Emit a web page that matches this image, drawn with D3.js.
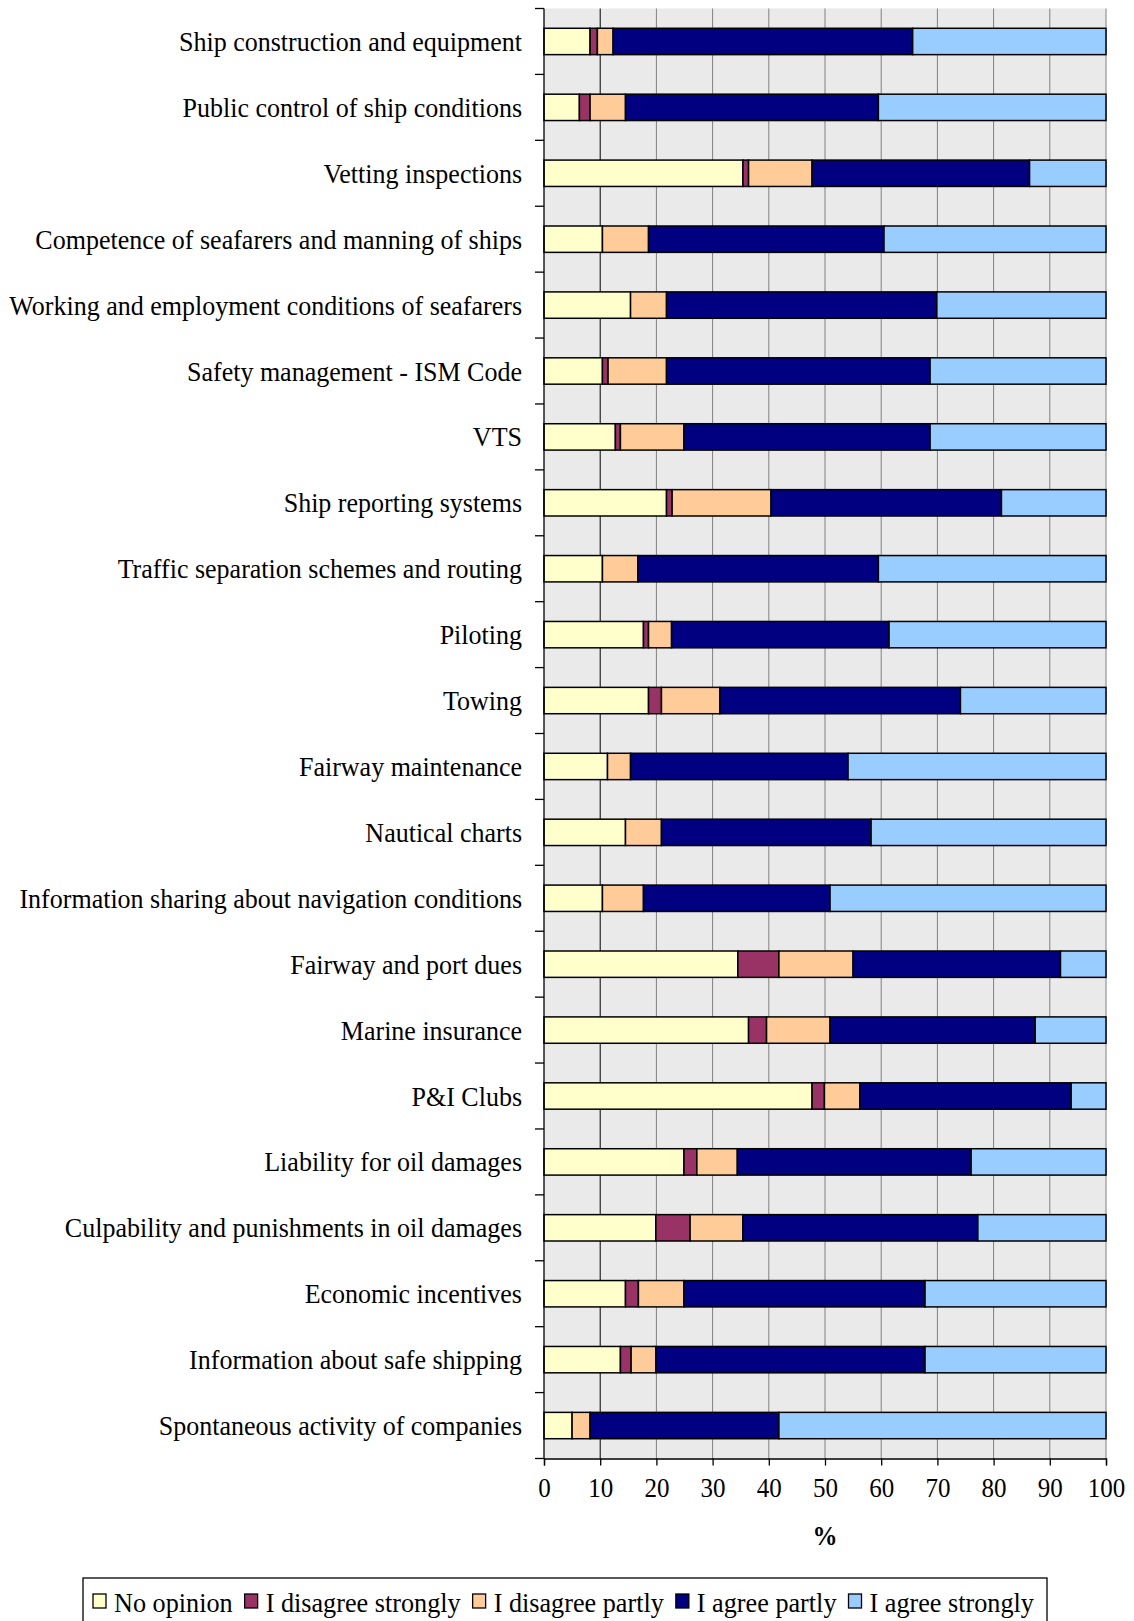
<!DOCTYPE html>
<html><head><meta charset="utf-8">
<script src="https://cdn.jsdelivr.net/npm/d3@7"></script>
<style>body{margin:0;background:#fff}svg{display:block}</style>
</head><body>
<svg id="c" width="1134" height="1621"></svg>
<script>
const categories = [
 "Ship construction and equipment","Public control of ship conditions","Vetting inspections",
 "Competence of seafarers and manning of ships","Working and employment conditions of seafarers",
 "Safety management - ISM Code","VTS","Ship reporting systems","Traffic separation schemes and routing",
 "Piloting","Towing","Fairway maintenance","Nautical charts","Information sharing about navigation conditions",
 "Fairway and port dues","Marine insurance","P&I Clubs","Liability for oil damages",
 "Culpability and punishments in oil damages","Economic incentives","Information about safe shipping",
 "Spontaneous activity of companies"];
const seriesNames = ["No opinion","I disagree strongly","I disagree partly","I agree partly","I agree strongly"];
const noOpinion      = [8.2,6.3,35.4,10.4,15.4,10.4,12.7,21.8,10.4,17.7,18.6,11.3,14.5,10.4,34.5,36.4,47.7,24.9,19.9,14.5,13.6,5.0];
const disagreeStrong = [1.3,1.9,1.0,0,0,1.0,0.9,1.0,0,0.9,2.3,0,0,0,7.3,3.2,2.2,2.3,6.1,2.3,1.9,0];
const disagreePartly = [2.8,6.3,11.3,8.2,6.4,10.4,11.3,17.6,6.3,4.1,10.4,4.1,6.4,7.3,13.2,11.3,6.3,7.2,9.4,8.1,4.4,3.2];
const agreePartly    = [53.3,45.0,38.7,41.9,48.1,46.9,43.8,41.0,42.8,38.7,42.8,38.7,37.3,33.2,36.9,36.5,37.6,41.6,41.8,42.9,47.9,33.6];
const agreeStrong    = [34.4,40.5,13.6,39.5,30.1,31.3,31.3,18.6,40.5,38.6,25.9,45.9,41.8,49.1,8.1,12.6,6.2,24.0,22.8,32.2,32.2,58.2];
const xTicks = [0,10,20,30,40,50,60,70,80,90,100];
const colors = ["#FFFFCC","#993366","#FFCC99","#000080","#99CCFF"];

const rows = categories.map((c,i)=>({cat:c, s0:noOpinion[i], s1:disagreeStrong[i], s2:disagreePartly[i], s3:agreePartly[i], s4:agreeStrong[i]}));
const keys = ["s0","s1","s2","s3","s4"];
const stacked = d3.stack().keys(keys)(rows);

const svg = d3.select("#c");
const L = 544, R = 1106, T = 8.5, B = 1458.5;
const font = "'Liberation Serif', 'Times New Roman', serif";
const x = d3.scaleLinear().domain([0,100]).range([L,R]);
const y = d3.scaleBand().domain(categories).range([T,B]).paddingInner(0.6).paddingOuter(0.3);

function styleText(sel, F, W){
  sel.attr("font-family",font).attr("font-size",F).attr("fill","#000")
    .each(function(){ const len=this.getComputedTextLength(); d3.select(this).attr("textLength",len*W/F).attr("lengthAdjust","spacingAndGlyphs"); });
}

svg.append("rect").attr("x",L).attr("y",T).attr("width",R-L).attr("height",B-T).attr("fill","#EAEAEA");
svg.append("g").selectAll("line").data(xTicks.filter(d=>d>0)).join("line")
  .attr("x1",d=>x(d)).attr("x2",d=>x(d)).attr("y1",T).attr("y2",B)
  .attr("stroke",d=>d===10?"#000":"#808080").attr("stroke-width",1);

svg.append("g").selectAll("g").data(stacked).join("g")
  .attr("fill",(d,i)=>colors[i])
  .selectAll("rect").data(d=>d.filter(p=>p[1]-p[0]>0)).join("rect")
  .attr("x",d=>x(d[0])).attr("width",d=>x(d[1])-x(d[0]))
  .attr("y",d=>y(d.data.cat)).attr("height",y.bandwidth())
  .attr("stroke","#000").attr("stroke-width",1.5);

svg.append("line").attr("x1",L).attr("x2",L).attr("y1",T).attr("y2",B).attr("stroke","#000").attr("stroke-width",1.3);
const step = y.step();
const bounds = d3.range(categories.length+1).map(i=>T + i*step);
svg.append("g").selectAll("line").data(bounds).join("line")
  .attr("x1",L-9).attr("x2",L).attr("y1",d=>d).attr("y2",d=>d).attr("stroke","#000").attr("stroke-width",1.3);
const yAxis = d3.axisLeft(y).tickSize(0).tickPadding(22);
const gy = svg.append("g").attr("transform",`translate(${L},0)`).call(yAxis);
gy.select(".domain").remove();
gy.selectAll("text").attr("dy","0.34em");
styleText(gy.selectAll("text"), 28, 26);

const xAxis = d3.axisBottom(x).tickValues(xTicks).tickSize(7).tickPadding(12).tickFormat(d3.format("d"));
const gx = svg.append("g").attr("transform",`translate(0,${B})`).call(xAxis);
gx.select(".domain").attr("stroke","#000").attr("stroke-width",1.3);
gx.selectAll(".tick line").attr("stroke","#000").attr("stroke-width",1.3);
styleText(gx.selectAll("text"), 27, 25);
const pct = svg.append("text").attr("x",(L+R)/2).attr("y",1545).attr("text-anchor","middle")
  .attr("font-weight","bold").text("%");
styleText(pct, 27, 25);

const lg = svg.append("g");
lg.append("rect").attr("x",83).attr("y",1578).attr("width",964).attr("height",60).attr("fill","#fff").attr("stroke","#000").attr("stroke-width",1.3);
let lx = 93;
seriesNames.forEach((n,i)=>{
  lg.append("rect").attr("x",lx).attr("y",1594).attr("width",13).attr("height",14).attr("fill",colors[i]).attr("stroke","#000").attr("stroke-width",1.3);
  const t = lg.append("text").attr("x",lx+21).attr("y",1612).text(n);
  styleText(t, 28, 26.2);
  lx += 21 + (+t.attr("textLength")) + 12;
});
</script>
</body></html>
